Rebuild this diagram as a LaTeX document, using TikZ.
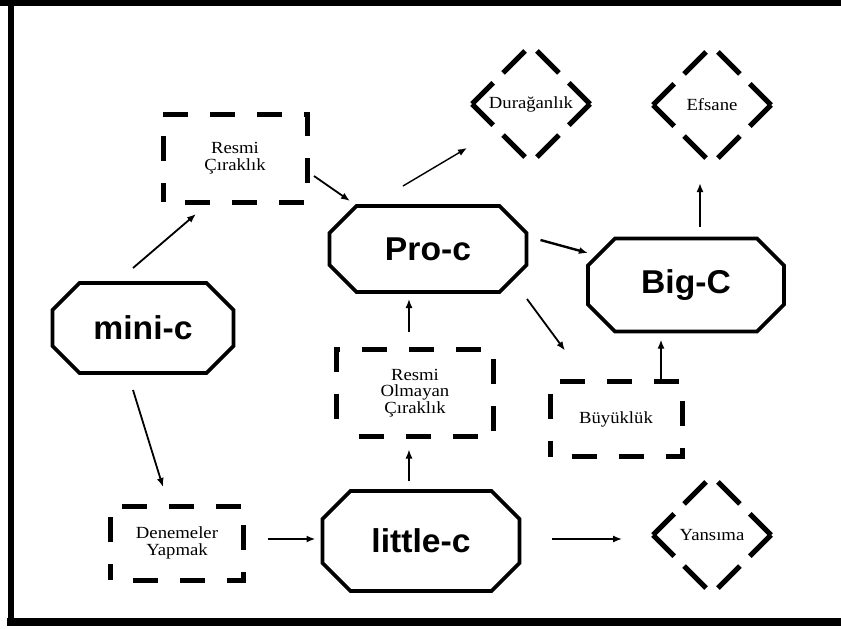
\documentclass[tikz,border=0pt]{standalone}
\usepackage{fontspec}
\setmainfont{Liberation Serif}
\newfontfamily\lblfont{Liberation Serif}[FakeStretch=1.1]
\newfontfamily\bigfont{Liberation Sans}[FakeStretch=1.02]
\usetikzlibrary{shapes.geometric,arrows.meta,calc}
\newcommand{\octpath}[2]{\draw[octline] ($(#1.north west)+(#2,0)$) -- ($(#1.north east)+(-#2,0)$) -- ($(#1.north east)+(0,#2)$) -- ($(#1.south east)+(0,-#2)$) -- ($(#1.south east)+(-#2,0)$) -- ($(#1.south west)+(#2,0)$) -- ($(#1.south west)+(0,-#2)$) -- ($(#1.north west)+(0,#2)$) -- cycle;}
\newcommand{\diapath}[1]{%
  \draw[dline] (#1.west) -- (#1.north);
  \draw[dline] (#1.west) -- (#1.south);
  \draw[dline] (#1.east) -- (#1.north);
  \draw[dline] (#1.east) -- (#1.south);}
\tikzset{
  octnode/.style={draw=none, inner sep=0pt, outer sep=0pt, font=\bigfont\bfseries\fontsize{33}{36}\selectfont},
  octline/.style={line width=3.8pt, line join=miter},
  dbox/.style={draw, line width=5pt, dash pattern=on 25pt off 22pt, dash phase=25pt, inner sep=0pt, outer sep=0pt, align=center, font=\lblfont\fontsize{17}{16.5}\selectfont},
  ddia/.style={diamond, aspect=1, draw=none, inner sep=0pt, outer sep=0pt, minimum width=118pt, minimum height=118pt, font=\lblfont\fontsize{17}{16.5}\selectfont},
  dline/.style={line width=5pt, dash pattern=on 30pt off 14pt on 31pt off 30pt},
  arr/.style={-{Latex[length=9pt,width=7pt]}, line width=1.8pt},
  arrthin/.style={arr, line width=1.4pt},
  arrthick/.style={arr, line width=2.4pt},
}
\begin{document}
\begin{tikzpicture}[x=1pt,y=-1pt]
\useasboundingbox (0,0) rectangle (841,629);
\fill[white] (0,0) rectangle (841,629);
% frame
\draw[line width=6pt] (-5,2.5) -- (850,2.5);
\draw[line width=6pt] (11,0) -- (11,626);
\draw[line width=8pt] (7,622) -- (850,622);

% octagon nodes
\node[octnode, minimum width=181pt, minimum height=90pt] (mini) at (143,328) {mini-c};
\node[octnode, minimum width=197pt, minimum height=86pt] (pro) at (428,249) {Pro-c};
\node[octnode, minimum width=196pt, minimum height=93pt] (big) at (686,285) {Big-C};
\node[octnode, minimum width=197pt, minimum height=100pt] (little) at (421,541) {little-c};
\octpath{mini}{27}
\octpath{pro}{27}
\octpath{big}{27}
\octpath{little}{28}

% dashed boxes
\node[dbox, minimum width=144pt, minimum height=88pt] (rc) at (235,158) {Resmi\\Çıraklık};
\node[dbox, minimum width=157pt, minimum height=87pt] (rom) at (415,393) {Resmi\\Olmayan\\Çıraklık};
\node[dbox, minimum width=132pt, minimum height=75pt] (buy) at (616,419) {Büyüklük};
\node[dbox, minimum width=133pt, minimum height=74pt] (den) at (177,543) {Denemeler\\Yapmak};

% dashed diamonds
\node[ddia] (dur) at (531,104) {Durağanlık};
\node[ddia] (efs) at (712,105) {Efsane};
\node[ddia] (yan) at (712,535) {Yansıma};
\diapath{dur}
\diapath{efs}
\diapath{yan}

% connectors
\draw[arr] ($(mini.north)+(-10,-15)$) -- ($(rc.south)+(-39,12)$);
\draw[arr] ($(rc.east)+(7,18)$) -- ($(pro.north)+(-78,-5)$);
\draw[arrthin] ($(pro.north)+(-25,-20)$) -- ($(dur.center)+(-64,44)$);
\draw[arrthick] ($(pro.east)+(14,-9)$) -- ($(big.west)+(0,-32)$);
\draw[arr] ($(pro.south)+(99,7)$) -- ($(buy.north)+(-51,-31)$);
\draw[arrthin] ($(rom.north)+(-6,-18)$) -- ($(pro.south)+(-19,7)$);
\draw[arrthin] ($(little.north)+(-12,-10)$) -- ($(rom.south)+(-6,13)$);
\draw[arrthick] ($(buy.north)+(45,-3)$) -- ($(big.south)+(-25,8)$);
\draw[arrthick] ($(big.north)+(14,-12)$) -- ($(efs.center)+(-12,78)$);
\draw[arr] ($(mini.south)+(-10,17)$) -- ($(den.north)+(-14,-19)$);
\draw[arrthick] ($(den.east)+(24,-4)$) -- ($(little.west)+(-7,-2)$);
\draw[arrthin] ($(little.east)+(32,-2)$) -- ($(yan.center)+(-90,4)$);
\end{tikzpicture}
\end{document}
